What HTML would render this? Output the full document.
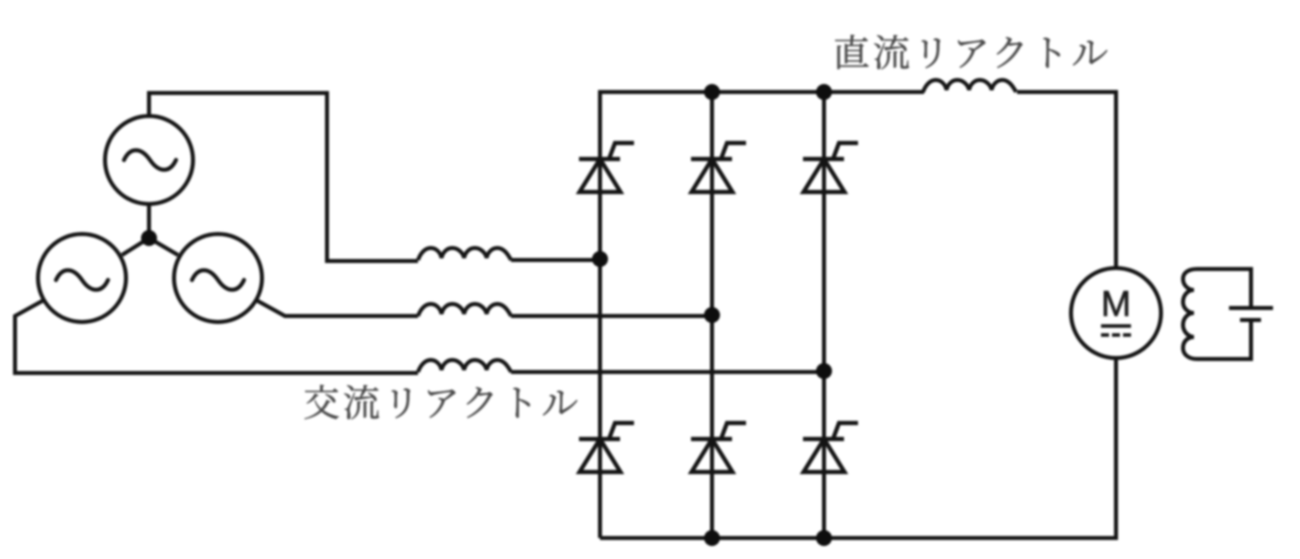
<!DOCTYPE html>
<html lang="ja">
<head>
<meta charset="utf-8">
<style>
html,body{margin:0;padding:0;background:#fff;width:1300px;height:559px;overflow:hidden}
svg{display:block;filter:blur(1.1px)}
text{font-family:"Liberation Serif","Noto Serif CJK SC",serif}
</style>
</head>
<body>
<svg width="1300" height="559" viewBox="0 0 1300 559" xmlns="http://www.w3.org/2000/svg">
<defs>
<path id="sine" d="M-26 0 C-20 -13 -9 -13 0 0 C9 13 20 13 26 0" fill="none" stroke="#141414" stroke-width="4" stroke-linecap="round"/>
<g id="ind" fill="none" stroke="#141414" stroke-width="4">
<path d="M0 0 C3 -8 8 -12 13 -12 C19 -12 23 -7 24 -2 C25 -7 29 -12 35 -12 C41 -12 46 -7 47 -2 C48 -7 52 -12 58 -12 C64 -12 69 -7 70 -2 C71 -7 75 -12 81 -12 C87 -12 91 -7 95 0"/>
</g>
<g id="thy" fill="none" stroke="#141414" stroke-width="4.200">
<path d="M-21 0 H20"/>
<path d="M0 0 L-20.500 33 H20.500 Z" stroke-linejoin="miter"/>
<path d="M9 0 L15 -16 H34"/>
</g>
</defs>

<g fill="none" stroke="#141414" stroke-width="4">
<!-- generators -->
<circle cx="149" cy="160" r="44"/>
<circle cx="82" cy="278" r="44"/>
<circle cx="218" cy="278" r="44"/>
<!-- star -->
<path d="M149 204 V238 M149 238 L122 255 M149 238 L178 255"/>
<!-- phase wires -->
<path d="M149 116 V93 H327 V261 H418"/>
<path d="M256 300 L285 316 H418"/>
<path d="M44 300 L15 316 V373 H418"/>
<path d="M511 260 H600"/>
<path d="M511 316 H712"/>
<path d="M511 372 H824"/>
<!-- bridge -->
<path d="M600 538 V92 H924"/>
<path d="M712 92 V538"/>
<path d="M824 92 V538"/>
<path d="M600 538 H1116 V358"/>
<path d="M1017 92 H1116 V268"/>
<!-- motor -->
<circle cx="1116" cy="313" r="45"/>
<!-- field -->
<path d="M1251 308 V269 H1197 C1188 269 1183 273 1183 279 C1183 285 1188 290 1194 290 C1188 290 1183 295 1183 302 C1183 308 1188 313 1194 313 C1188 313 1183 318 1183 325 C1183 331 1188 337 1194 337 C1188 337 1183 341 1183 348 C1183 354 1188 359 1197 359 H1251 V320"/>
<path d="M1229 308 H1273 M1240 320 H1261"/>
<!-- motor under M -->
<path d="M1101 326 H1131" stroke-width="3.4"/>
<path d="M1101 335 H1131" stroke-width="3.6" stroke-dasharray="8 3"/>
</g>

<use href="#sine" x="150" y="160"/>
<use href="#sine" x="82" y="280"/>
<use href="#sine" x="218" y="280"/>

<use href="#ind" transform="translate(418 260) scale(0.98 1)"/>
<use href="#ind" transform="translate(418 316) scale(0.98 1)"/>
<use href="#ind" transform="translate(418 372) scale(0.98 1)"/>
<use href="#ind" transform="translate(923 92) scale(0.98 1)"/>

<use href="#thy" x="600" y="159"/>
<use href="#thy" x="712" y="159"/>
<use href="#thy" x="824" y="159"/>
<use href="#thy" x="600" y="439"/>
<use href="#thy" x="712" y="439"/>
<use href="#thy" x="824" y="439"/>

<g fill="#0e0e0e">
<circle cx="149" cy="238" r="8"/>
<circle cx="600" cy="259" r="8"/>
<circle cx="712" cy="315" r="8"/>
<circle cx="824" cy="371" r="8"/>
<circle cx="712" cy="92" r="8"/>
<circle cx="824" cy="92" r="8"/>
<circle cx="712" cy="538" r="8"/>
<circle cx="824" cy="538" r="8"/>
</g>

<text x="1116" y="316" font-size="36" text-anchor="middle" fill="#1c1c1c" stroke="#1c1c1c" stroke-width="0.6" style="font-family:'Liberation Sans',sans-serif">M</text>
<text x="833" y="66" font-size="37" letter-spacing="2.900" fill="#4a4a4a" stroke="#4a4a4a" stroke-width="0.4">直流リアクトル</text>
<text x="303" y="416" font-size="37" letter-spacing="2.900" fill="#4a4a4a" stroke="#4a4a4a" stroke-width="0.4">交流リアクトル</text>
</svg>
</body>
</html>
